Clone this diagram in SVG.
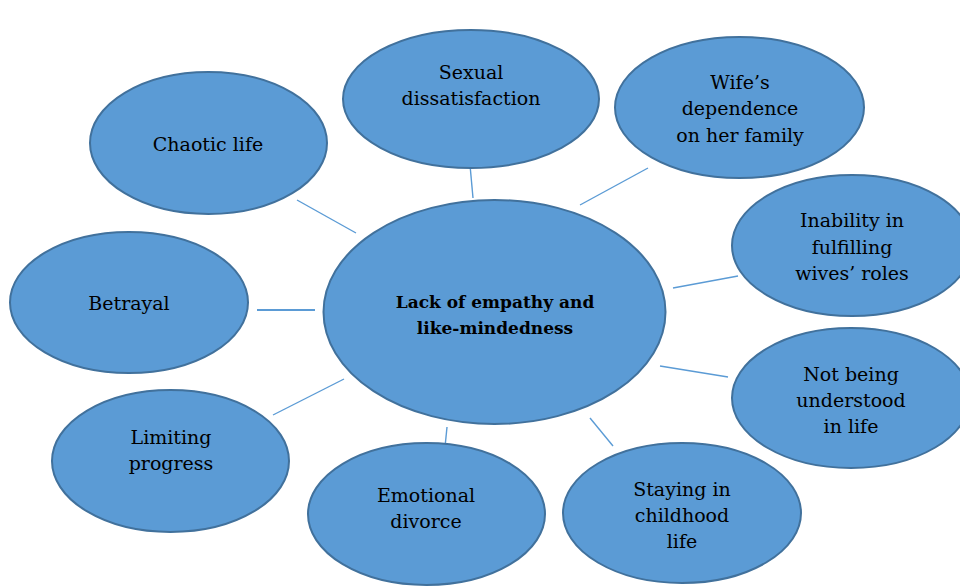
<svg xmlns="http://www.w3.org/2000/svg" width="960" height="586" viewBox="0 0 960 586">
<style>
.n ellipse{fill:#5b9bd5;stroke:#41719c;stroke-width:2}
.n text{font-family:"DejaVu Serif","Liberation Serif",serif;font-size:19px;fill:#000;text-anchor:middle}
.n text.b{font-weight:bold;font-size:17px}
.c line{stroke:#5b9bd5;stroke-width:1.4}
</style>
<rect width="960" height="586" fill="#fff"/>
<g id="connectors" class="c">
<line x1="297" y1="200" x2="356" y2="233"/>
<line x1="257" y1="310" x2="315" y2="310" style="stroke-width:2"/>
<line x1="470" y1="165" x2="473" y2="198"/>
<line x1="580" y1="205" x2="648" y2="168"/>
<line x1="673" y1="288" x2="738" y2="276"/>
<line x1="660" y1="366" x2="728" y2="377"/>
<line x1="590" y1="418" x2="613" y2="446"/>
<line x1="447" y1="427" x2="445" y2="447"/>
<line x1="273" y1="415" x2="344" y2="379"/>
</g>
<g id="center" class="n">
<ellipse cx="494.5" cy="312" rx="171" ry="112"/>
<text class="b" x="495" y="308">Lack of empathy and</text>
<text class="b" x="495" y="334">like-mindedness</text>
</g>
<g id="sexual" class="n">
<ellipse cx="471" cy="99" rx="128" ry="69"/>
<text x="471" y="79">Sexual</text>
<text x="471" y="105">dissatisfaction</text>
</g>
<g id="wife" class="n">
<ellipse cx="739.5" cy="107.5" rx="124.5" ry="70.5"/>
<text x="740" y="89">Wife’s</text>
<text x="740" y="115">dependence</text>
<text x="740" y="142">on her family</text>
</g>
<g id="inability" class="n">
<ellipse cx="852" cy="245.5" rx="120" ry="70.5"/>
<text x="852" y="227">Inability in</text>
<text x="852" y="254">fulfilling</text>
<text x="852" y="280">wives’ roles</text>
</g>
<g id="understood" class="n">
<ellipse cx="851" cy="398" rx="119" ry="70"/>
<text x="851" y="381">Not being</text>
<text x="851" y="407">understood</text>
<text x="851" y="433">in life</text>
</g>
<g id="childhood" class="n">
<ellipse cx="682" cy="513" rx="119" ry="70"/>
<text x="682" y="496">Staying in</text>
<text x="682" y="522">childhood</text>
<text x="682" y="548">life</text>
</g>
<g id="emotional" class="n">
<ellipse cx="426.5" cy="514" rx="118.5" ry="71"/>
<text x="426" y="502">Emotional</text>
<text x="426" y="528">divorce</text>
</g>
<g id="limiting" class="n">
<ellipse cx="170.5" cy="461" rx="118.5" ry="71"/>
<text x="171" y="444">Limiting</text>
<text x="171" y="470">progress</text>
</g>
<g id="betrayal" class="n">
<ellipse cx="129" cy="302.5" rx="119" ry="70.5"/>
<text x="129" y="310">Betrayal</text>
</g>
<g id="chaotic" class="n">
<ellipse cx="208.5" cy="143" rx="118.5" ry="71"/>
<text x="208" y="151">Chaotic life</text>
</g>
</svg>
